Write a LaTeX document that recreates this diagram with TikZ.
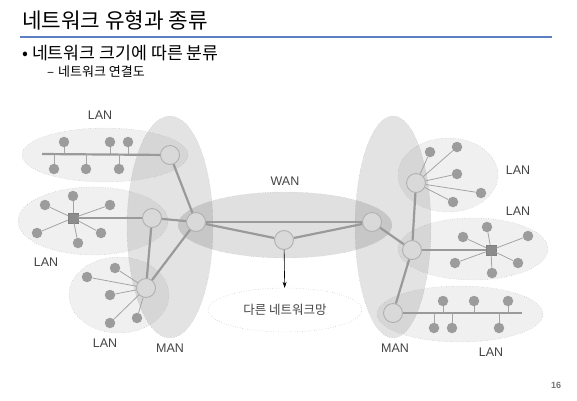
\documentclass[tikz,border=0pt]{standalone}
\usepackage{fontspec}
\setmainfont{Liberation Sans}
\newfontfamily\kr{Noto Sans CJK KR}
\usepackage{tikz}
\usetikzlibrary{calc,shapes.geometric,arrows.meta}

\definecolor{linkgray}{HTML}{9A9A9A}
\definecolor{hostgray}{HTML}{9C9C9C}
\definecolor{routergray}{HTML}{D9D9D9}
\definecolor{rimgray}{HTML}{B0B0B0}
\definecolor{labelgray}{HTML}{444444}
\definecolor{titleblue}{HTML}{5B7FBF}

\tikzset{
	lan/.style={draw=gray!70, dotted, fill=black, fill opacity=0.06},
	man/.style={draw=gray!60, dotted, fill=black, fill opacity=0.11},
	wan/.style={draw=gray!60, dotted, fill=black, fill opacity=0.12},
	host/.style={circle, fill=hostgray, inner sep=0pt, minimum size=10.5pt},
	router/.style={circle, draw=rimgray, line width=0.9pt, fill=routergray, inner sep=0pt, minimum size=19pt},
	hub/.style={rectangle, draw=gray, fill=gray!90, inner sep=0pt, minimum size=10pt},
	trunk/.style={draw=linkgray, line width=2.2pt},
	spoke/.style={draw=linkgray!90, line width=0.8pt},
	netlabel/.style={text=labelgray, font=\fontsize{12.5}{14}\selectfont},
}

\begin{document}
\begin{tikzpicture}[x=1pt,y=-1pt]
				\useasboundingbox (0,0) rectangle (577,400);
				% Header
				\node[anchor=west, inner sep=0pt] (title) at (22,20) {\kr\fontsize{21.3}{24}\selectfont 네트워크 유형과 종류};
				\draw[titleblue, line width=1.4pt] (20,37) -- (552,37);
				\node[anchor=west, inner sep=0pt] (bullet) at (22,53) {\kr\fontsize{17.3}{19}\selectfont •\hspace{4pt}네트워크 크기에 따른 분류};
				\node[anchor=west, inner sep=0pt] (sub) at (47,72) {\kr\fontsize{13}{15}\selectfont –\hspace{4pt}네트워크 연결도};
				\node[text=gray!90!black, font=\fontsize{9}{10}\selectfont\bfseries] (page) at (556,385) {16};
				
				% Regions
				\draw[man] (170,227) ellipse [x radius=43, y radius=111];
				\draw[man] (393,227) ellipse [x radius=38, y radius=111];
				\draw[lan] (105,155) ellipse [x radius=83, y radius=27];
				\draw[lan] (93,221) ellipse [x radius=75, y radius=34];
				\draw[lan] (119,295) ellipse [x radius=50, y radius=38];
				\draw[lan] (448,175) ellipse [x radius=50, y radius=37];
				\draw[lan] (473,249) ellipse [x radius=75, y radius=31];
				\draw[lan] (460,314) ellipse [x radius=83, y radius=28];
				\draw[wan] (285,225) ellipse [x radius=107, y radius=33];
				
				% Labels
				\node[netlabel] (labA) at (100,115) {LAN};
				\node[netlabel] (labB) at (46,262) {LAN};
				\node[netlabel] (labC) at (105,343) {LAN};
				\node[netlabel] (labManL) at (170,348) {MAN};
				\node[netlabel] (labWan) at (285,181) {WAN};
				\node[netlabel] (labD) at (518,170) {LAN};
				\node[netlabel] (labE) at (518,211) {LAN};
				\node[netlabel] (labManR) at (395,348) {MAN};
				\node[netlabel] (labF) at (491,352) {LAN};
				
				% Other network
				\node[ellipse, draw=gray!70, dotted, fill=white, minimum width=154pt, minimum height=44pt] (other) at (285,310) {};
				\node[text=labelgray] (otherText) at (285,310) {\kr\fontsize{12.5}{14}\selectfont 다른 네트워크망};
				
				% Routers
				\node[router] (rA) at (170,155) {};
				\node[router] (rB) at (152,218) {};
				\node[router] (rC) at (146,288) {};
				\node[router] (wL) at (196,222) {};
				\node[router] (wM) at (284,240) {};
				\node[router] (wR) at (372,222) {};
				\node[router] (rD) at (416,183) {};
				\node[router] (rE) at (412,250) {};
				\node[router] (rF) at (393,313) {};
				\node[hub] (hB) at (73,218) {};
				\node[hub] (hE) at (491,250) {};
				
				% Backbone
				\path[trunk] (rA) -- (wL);
				\path[trunk] (rB) -- (wL);
				\path[trunk] (rB) -- (rC);
				\path[trunk] (wL) -- (rC);
				\path[trunk] (wL) -- (wR);
				\path[trunk] (wL) -- (wM);
				\path[trunk] (wM) -- (wR);
				\path[trunk] (wR) -- (rE);
				\path[trunk] (rD) -- (rE);
				\path[trunk] (rE) -- (rF);
				\path[trunk] (rE) -- (hE);
				\path[trunk] (rB) -- (hB);
				\draw[-{Stealth[length=6pt,width=4pt]}, black, line width=0.6pt] (wM) -- (other);
				
				% Bus LANs
				\coordinate (busA) at (42,154);
				\coordinate (busF) at (522,313);
				\path[trunk] (busA) -- (rA);
				\path[trunk] (rF) -- (busF);
				\foreach \x/\y [count=\i] in {64/142,110/142,128/142,54/169,86/169,119/169}{
					\node[host] (a\i) at (\x,\y) {};
					\path[spoke] (a\i) -- (a\i |- busA);
				}
				\foreach \x/\y [count=\i] in {443/301,474/301,508/301,434/328,452/328,499/328}{
					\node[host] (f\i) at (\x,\y) {};
					\path[spoke] (f\i) -- (f\i |- busF);
				}
				
				% Star LANs
				\foreach \x/\y [count=\i] in {73/196,45/205,110/205,37/233,101/233,78/243}{
					\node[host] (b\i) at (\x,\y) {};
					\path[spoke] (hB) -- (b\i);
				}
				\foreach \x/\y [count=\i] in {115/268,87/277,110/295,110/323,137/318}{
					\node[host] (c\i) at (\x,\y) {};
					\path[spoke] (rC) -- (c\i);
				}
				\foreach \x/\y [count=\i] in {430/152,457/147,457/174,481/193,453/202}{
					\node[host] (d\i) at (\x,\y) {};
					\path[spoke] (rD) -- (d\i);
				}
				\foreach \x/\y [count=\i] in {463/237,487/227,528/236,455/263,492/273,518/263}{
					\node[host] (e\i) at (\x,\y) {};
					\path[spoke] (hE) -- (e\i);
				}
			\end{tikzpicture}
\end{document}
